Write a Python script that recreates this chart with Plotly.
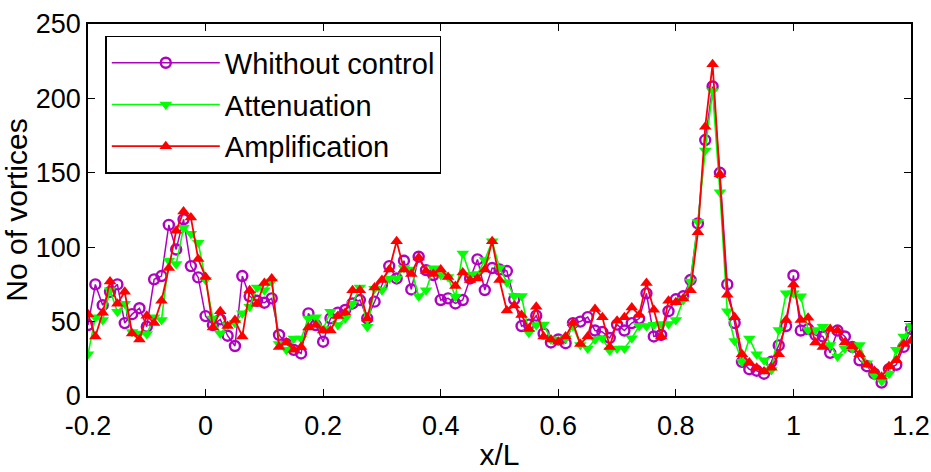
import numpy as np
import plotly.graph_objects as go

# x positions (x/L), uniform sampling
x_start, x_step, n_pts = -0.2, 0.0125, 113
x_vals = [round(x_start + i * x_step, 4) for i in range(n_pts)]

without_control = [
    47.7, 75, 61, 70, 75, 49, 55, 59, 46.6, 78.4,
    80.6, 115, 98.5, 118.7, 87.3, 79.7, 53.7, 47.7, 51.5, 40.5,
    33.6, 80.6, 67, 64, 62.7, 65.6, 41, 35, 31, 28.6,
    55.5, 47.7, 36.5, 52.2, 56, 57.8, 62.2, 64.5, 52.2, 63.4,
    74.6, 87.3, 79, 90.9, 71.6, 93.6, 84.6, 81.3, 64.5, 65.6,
    62.2, 64.5, 79, 91.8, 71.2, 86, 85, 84, 65, 47,
    48, 54, 42, 36, 38, 35.5, 49, 50, 53, 44,
    43, 39, 48, 44, 49, 52, 69, 40, 41, 57,
    65, 67, 78, 116, 172, 208, 150, 75, 49, 23,
    18, 17, 15, 23, 34, 47, 81, 44, 45, 41,
    40, 29, 44, 40, 33, 24, 20, 15, 9, 18,
    21, 33, 45,
]

attenuation = [
    28, 53, 51, 71, 56.6, 62, 43, 42, 41.6, 53,
    51, 91, 88.7, 113, 109, 103, 78, 52, 42, 47.7,
    49, 55.6, 60, 73, 71, 77, 35, 31, 38.7, 38.7,
    52, 53, 45, 56.6, 47.7, 52, 62, 73, 46.6, 72,
    71, 79, 79, 86, 85, 67, 71, 85.8, 81.3, 80,
    66.7, 95.8, 81.4, 82, 91.4, 104, 86, 76.5, 67.2, 67.2,
    42.5, 47.7, 48, 38, 38, 38.8, 47, 34.3, 32, 38,
    38.8, 30.5, 32, 32, 38.8, 47, 47, 47.8, 48.4, 48.4,
    51, 64.6, 77, 117, 165, 205, 137, 57, 37, 23,
    38.7, 28, 24, 17.5, 44.4, 69, 69, 67, 44.4, 44.4,
    46.6, 34.3, 26.5, 32, 32, 34.3, 22, 14, 10, 15,
    31, 40, 47,
]

amplification = [
    55, 40, 56, 77, 62, 70, 42, 38, 54, 49,
    64, 86, 111, 124, 120, 92, 80, 46, 57, 47,
    51, 40, 71, 62, 76, 79, 33, 36, 31, 33,
    46, 47.7, 44, 44, 53.7, 56, 71, 71, 52, 73,
    78, 85, 104, 85, 82, 93, 84, 82, 85, 80,
    74, 83, 78, 79, 85, 104, 78, 57.5, 60.8, 54.4,
    45, 60, 40, 38, 36.5, 40, 49, 35, 40, 58.5,
    53, 33, 50.5, 53, 59.5, 54.5, 76, 58, 40, 64,
    63, 65.6, 71, 110, 181, 223, 149, 68, 53, 28,
    22.5, 19, 16.5, 19, 28, 51, 75, 51, 52.6, 36,
    33, 45, 44, 36, 33.5, 28, 21, 17, 13, 20,
    24, 35, 37,
]

x_ticks = [-0.2, 0, 0.2, 0.4, 0.6, 0.8, 1, 1.2]
x_ticktext = ["-0.2", "0", "0.2", "0.4", "0.6", "0.8", "1", "1.2"]
y_ticks = [0, 50, 100, 150, 200, 250]

FONT = "Liberation Sans, Arial, sans-serif"

fig = go.Figure()
fig.add_trace(go.Scatter(
    x=x_vals, y=without_control, name="Whithout control", mode="lines+markers",
    legendgroup="a",
    line=dict(color="#B000C0", width=1.5),
    marker=dict(symbol="circle-open", size=10, color="#B000C0", line=dict(width=2.4, color="#B000C0")),
))
fig.add_trace(go.Scatter(
    x=x_vals, y=attenuation, name="Attenuation", mode="lines+markers",
    legendgroup="b",
    line=dict(color="#00FF00", width=1.6),
    marker=dict(symbol="triangle-down", size=11, color="#00FF00"),
))
fig.add_trace(go.Scatter(
    x=x_vals, y=amplification, name="Amplification", mode="lines+markers",
    legendgroup="c",
    line=dict(color="#FF0000", width=1.8),
    marker=dict(symbol="triangle-up", size=11, color="#FF0000"),
))

axis_common = dict(
    showline=True, linecolor="black", linewidth=1.5, mirror="ticks",
    ticks="inside", ticklen=7, tickwidth=1.2, tickcolor="black",
    showgrid=False, zeroline=False, automargin=False,
    tickfont=dict(family=FONT, size=27, color="black"),
)

fig.update_layout(
    width=931, height=472,
    margin=dict(l=88, r=20, t=24, b=76),
    paper_bgcolor="white", plot_bgcolor="white",
    font=dict(family=FONT, color="black"),
    xaxis=dict(range=[-0.2, 1.2], tickvals=x_ticks, ticktext=x_ticktext,
               ticklabelstandoff=5,
               title=dict(text="x/L", font=dict(family=FONT, size=30), standoff=4),
               **axis_common),
    yaxis=dict(range=[0, 250], tickvals=y_ticks,
               title=dict(text="No of vortices", font=dict(family=FONT, size=30), standoff=2),
               **axis_common),
    legend=dict(x=0.021, y=0.968, xanchor="left", yanchor="top",
                bgcolor="white", bordercolor="black", borderwidth=1.5,
                font=dict(family=FONT, size=29, color="black"),
                itemwidth=108, tracegroupgap=1),
    showlegend=True,
)

fig.write_html("out.html")
